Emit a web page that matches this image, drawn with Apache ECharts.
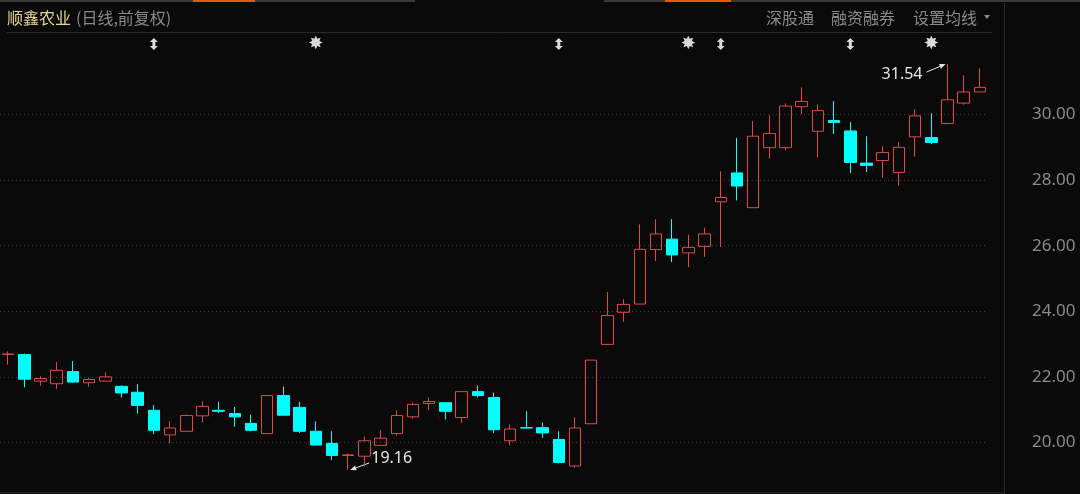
<!DOCTYPE html>
<html>
<head>
<meta charset="utf-8">
<script src="https://cdn.jsdelivr.net/npm/echarts@6/dist/echarts.min.js"></script>
<style>
html,body{margin:0;padding:0;background:#0a0a0a;overflow:hidden;}
#c{width:1080px;height:494px;}
</style>
</head>
<body>
<div id="c"></div>
<script>
// ---- data ----
const categories = ['D01','D02','D03','D04','D05','D06','D07','D08','D09','D10',
  'D11','D12','D13','D14','D15','D16','D17','D18','D19','D20',
  'D21','D22','D23','D24','D25','D26','D27','D28','D29','D30',
  'D31','D32','D33','D34','D35','D36','D37','D38','D39','D40',
  'D41','D42','D43','D44','D45','D46','D47','D48','D49','D50',
  'D51','D52','D53','D54','D55','D56','D57','D58','D59','D60','D61'];
const opens  = [22.68,22.68,21.87,21.79,22.16,21.82,21.87,21.71,21.53,20.98,
  20.23,20.34,20.81,20.98,20.88,20.58,20.27,21.43,21.07,20.34,
  19.97,19.60,19.58,19.91,20.27,20.78,21.19,21.21,20.76,21.55,
  21.37,20.05,20.45,20.45,20.09,19.28,20.57,22.99,23.97,24.22,
  25.88,26.20,25.78,25.98,27.34,28.22,27.16,28.99,28.99,30.24,
  29.49,29.82,29.50,28.52,28.60,28.23,29.32,29.30,29.73,30.35,30.69];
const closes = [22.70,21.93,21.95,22.20,21.84,21.92,22.00,21.51,21.13,20.37,
  20.44,20.82,21.10,20.95,20.78,20.37,21.43,20.83,20.34,19.92,
  19.60,19.62,20.05,20.13,20.82,21.16,21.25,20.95,21.55,21.43,
  20.39,20.41,20.44,20.29,19.39,20.44,22.51,23.87,24.21,25.89,
  26.36,25.72,25.95,26.36,27.47,27.82,29.34,29.42,30.26,30.40,
  30.12,29.76,28.54,28.45,28.84,29.00,29.96,29.15,30.45,30.69,30.83];
const lows   = [22.37,21.68,21.73,21.63,21.82,21.70,21.87,21.37,20.88,20.25,
  19.97,20.34,20.61,20.90,20.48,20.34,20.27,20.83,20.29,19.92,
  19.46,19.16,19.26,19.91,20.21,20.73,20.98,20.70,20.60,21.37,
  20.29,19.91,20.43,20.14,19.36,19.23,20.56,22.99,23.68,24.22,
  25.53,25.50,25.35,25.66,25.96,27.38,27.16,28.66,28.91,30.02,
  28.69,29.41,28.22,28.25,28.07,27.84,28.72,29.10,29.73,30.30,30.69];
const highs  = [22.78,22.71,22.02,22.45,22.48,21.97,22.14,21.74,21.78,21.14,
  20.65,20.85,21.26,21.24,21.08,20.85,21.44,21.70,21.24,20.64,
  20.34,19.66,20.18,20.38,20.98,21.21,21.37,21.21,21.55,21.73,
  21.52,20.55,20.95,20.61,20.34,20.77,22.52,24.59,24.37,26.65,
  26.81,26.81,26.34,26.55,28.27,29.29,29.80,29.98,30.34,30.83,
  30.31,30.41,29.77,29.34,29.03,29.15,30.16,30.04,31.54,31.20,31.41];
const yTickLabels = [20, 22, 24, 26, 28, 30];
const arrowMarkIdx = [9, 34, 44, 52];
const starMarkIdx = [19, 42, 57];
const lowLabel = {idx: 21, value: 19.16, text: '19.16'};
const highLabel = {idx: 58, value: 31.54, text: '31.54'};
const titleMain = '顺鑫农业';
const titleSub = '(日线,前复权)';
const menuItems = ['深股通', '融资融券', '设置均线'];

// ---- chart ----
const kdata = categories.map((c, i) => [opens[i], closes[i], lows[i], highs[i]]);
const chart = echarts.init(document.getElementById('c'), null, {renderer: 'canvas'});
const UP = '#e04848', DOWN = '#00ffff';
const option = {
  backgroundColor: '#0a0a0a',
  animation: false,
  grid: {left: 0, right: 92, top: 49, height: 459, containLabel: false, outerBoundsMode: 'none'},
  xAxis: {
    type: 'category', data: categories, boundaryGap: true,
    axisLine: {show: false}, axisTick: {show: false}, axisLabel: {show: false},
    splitLine: {show: false}
  },
  yAxis: {
    type: 'value', position: 'right', min: 18, max: 32, interval: 2, scale: true,
    axisLine: {show: false}, axisTick: {show: false},
    axisLabel: {
      show: true, margin: 44, color: '#8a8a8a', fontSize: 17,
      fontFamily: 'Noto Sans', padding: [5, 0, 0, 0],
      formatter: v => yTickLabels.includes(v) ? v.toFixed(2) : ''
    },
    splitLine: {show: true, showMinLine: false, showMaxLine: false,
      lineStyle: {color: '#3c3c3c', type: [1, 3], width: 1}}
  },
  series: [{
    type: 'candlestick',
    data: kdata,
    barWidth: 12,
    itemStyle: {
      color: 'rgba(0,0,0,0)', color0: DOWN,
      borderColor: UP, borderColor0: DOWN, borderWidth: 1
    }
  }]
};
chart.setOption(option);

// ---- overlay graphics (positions derived from data via the axes) ----
const g = [];
// top bar
g.push({type:'rect', shape:{x:0,y:0,width:415,height:2}, style:{fill:'#3a3a3a'}, silent:true});
g.push({type:'rect', shape:{x:604,y:0,width:476,height:2}, style:{fill:'#3a3a3a'}, silent:true});
g.push({type:'rect', shape:{x:193,y:0,width:62,height:2}, style:{fill:'#e8590c'}, silent:true});
g.push({type:'rect', shape:{x:665,y:0,width:66,height:2}, style:{fill:'#e8590c'}, silent:true});
// header line / frame lines
g.push({type:'line', shape:{x1:7,y1:32.5,x2:992,y2:32.5}, style:{stroke:'#2a2a2a', lineWidth:1}, silent:true});
g.push({type:'line', shape:{x1:1004.5,y1:3,x2:1004.5,y2:494}, style:{stroke:'#2c2c2c', lineWidth:1}, silent:true});
g.push({type:'line', shape:{x1:0,y1:492.5,x2:1004,y2:492.5}, style:{stroke:'#262626', lineWidth:1}, silent:true});
// header texts
g.push({type:'text', x:7, y:18, style:{text:titleMain, fill:'#e6d59a', fontSize:16,
  fontFamily:'Noto Sans CJK SC', verticalAlign:'middle', align:'left'}, silent:true});
g.push({type:'text', x:76, y:18, style:{text:titleSub, fill:'#8a8a8a', fontSize:16,
  fontFamily:'Noto Sans CJK SC', verticalAlign:'middle', align:'left'}, silent:true});
const menuX = [766, 831, 913];
menuItems.forEach((t, k) => g.push({type:'text', x:menuX[k], y:18, style:{text:t, fill:'#8a8a8a',
  fontSize:16, fontFamily:'Noto Sans CJK SC', verticalAlign:'middle', align:'left'}, silent:true}));
g.push({type:'polygon', shape:{points:[[984,15],[990,15],[987,19]]}, style:{fill:'#8a8a8a'}, silent:true});

// markers row
function px(i, v) { return chart.convertToPixel({gridIndex: 0}, [i, v]); }
arrowMarkIdx.forEach(i => {
  const x = px(i, 25)[0];
  g.push({type:'polygon', shape:{points:[[x,38],[x+4,42],[x+1.5,42],[x+1.5,46],[x+4,46],[x,50],[x-4,46],[x-1.5,46],[x-1.5,42],[x-4,42]]},
    style:{fill:'#d8d8d8'}, silent:true});
});
starMarkIdx.forEach(i => {
  const x = px(i, 25)[0];
  g.push({type:'text', x:x, y:44, style:{text:'✸', fill:'#d8d8d8', fontSize:18,
    fontFamily:'DejaVu Sans', align:'center', verticalAlign:'middle'}, silent:true});
});

// annotations with arrows
function arrow(x1, y1, x2, y2) {
  const a = Math.atan2(y2 - y1, x2 - x1), L = 6, W = 2.5;
  const bx = x2 - L * Math.cos(a), by = y2 - L * Math.sin(a);
  const nx = -Math.sin(a) * W, ny = Math.cos(a) * W;
  g.push({type:'line', shape:{x1:x1,y1:y1,x2:bx,y2:by}, style:{stroke:'#e6e6e6', lineWidth:1}, silent:true});
  g.push({type:'polygon', shape:{points:[[x2,y2],[bx+nx,by+ny],[bx-nx,by-ny]]}, style:{fill:'#e6e6e6'}, silent:true});
}
const lp = px(lowLabel.idx, lowLabel.value);
g.push({type:'text', x:lp[0] + 23, y:lp[1] - 12, style:{text:lowLabel.text, fill:'#e6e6e6', fontSize:16,
  fontFamily:'Noto Sans', align:'left', verticalAlign:'middle'}, silent:true});
arrow(lp[0] + 21, lp[1] - 7, lp[0] + 2, lp[1]);
const hp = px(highLabel.idx, highLabel.value);
g.push({type:'text', x:hp[0] - 25, y:hp[1] + 10, style:{text:highLabel.text, fill:'#e6e6e6', fontSize:16,
  fontFamily:'Noto Sans', align:'right', verticalAlign:'middle'}, silent:true});
arrow(hp[0] - 21, hp[1] + 8, hp[0] - 2, hp[1]);

chart.setOption({graphic: g});
</script>
</body>
</html>
